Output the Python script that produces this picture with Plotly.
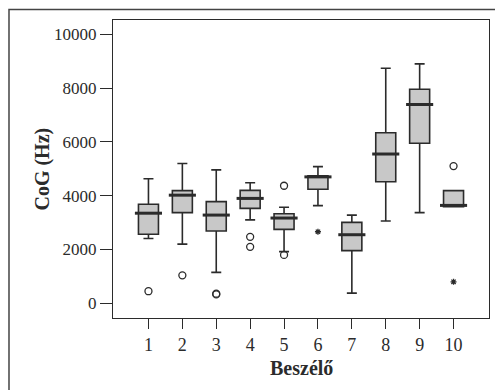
import plotly.graph_objects as go

speakers = [1, 2, 3, 4, 5, 6, 7, 8, 9, 10]
upper_whisker = [4630, 5200, 4960, 4480, 3570, 5080, 3280, 8740, 8900, 4190]
q3 = [3680, 4190, 3780, 4200, 3330, 4740, 3010, 6340, 7960, 4190]
median = [3350, 4020, 3280, 3900, 3170, 4700, 2550, 5550, 7390, 3640]
q1 = [2570, 3370, 2690, 3530, 2750, 4240, 1960, 4520, 5950, 3590]
lower_whisker = [2410, 2200, 1150, 3100, 1920, 3630, 380, 3060, 3370, 3590]

circle_x = [1, 2, 3, 3, 4, 4, 5, 5, 10]
circle_y = [450, 1040, 330, 360, 2470, 2100, 4370, 1800, 5100]
star_x = [6, 10]
star_y = [2660, 800]

x_ticks = [1, 2, 3, 4, 5, 6, 7, 8, 9, 10]
x_labels = ["1", "2", "3", "4", "5", "6", "7", "8", "9", "10"]
y_ticks = [0, 2000, 4000, 6000, 8000, 10000]
y_labels = ["0", "2000", "4000", "6000", "8000", "10000"]

ink = "#2b2b2b"
serif = "Liberation Serif, Times New Roman, serif"

fig = go.Figure()
fig.add_trace(go.Box(
    x=speakers, q1=q1, median=median, q3=q3,
    lowerfence=lower_whisker, upperfence=upper_whisker,
    width=0.59, whiskerwidth=0.5,
    fillcolor="#c8c8c8", line=dict(color=ink, width=1.6),
    boxpoints=False, showlegend=False, hoverinfo="skip",
))

mx, my = [], []
for s, m in zip(speakers, median):
    mx += [s - 0.4, s + 0.4, None]
    my += [m, m, None]
fig.add_trace(go.Scatter(x=mx, y=my, mode="lines",
                         line=dict(color=ink, width=3), showlegend=False, hoverinfo="skip"))

fig.add_trace(go.Scatter(x=circle_x, y=circle_y, mode="markers",
                         marker=dict(symbol="circle-open", size=7, color=ink, line=dict(width=1.3)),
                         showlegend=False))
fig.add_trace(go.Scatter(x=star_x, y=star_y, mode="markers",
                         marker=dict(symbol="asterisk-open", size=5, color=ink, line=dict(width=1.3)),
                         showlegend=False))

fig.update_layout(
    width=495, height=390,
    margin=dict(l=113, r=6, t=20, b=72),
    paper_bgcolor="white", plot_bgcolor="white",
    font=dict(family=serif, color=ink, size=16),
    xaxis=dict(range=[-0.046, 11.046], tickvals=x_ticks, ticktext=x_labels, ticks="outside",
               ticklen=10, tickwidth=1.3, tickcolor=ink, showline=True, mirror=True,
               linecolor=ink, linewidth=1.3, showgrid=False, zeroline=False,
               tickfont=dict(size=18, family=serif, color=ink)),
    yaxis=dict(range=[-546, 10532], tickvals=y_ticks, ticktext=y_labels, ticks="outside",
               ticklen=12, tickwidth=1.3, tickcolor=ink, showline=True, mirror=True,
               linecolor=ink, linewidth=1.3, showgrid=False, zeroline=False,
               tickfont=dict(size=17, family=serif, color=ink)),
    shapes=[dict(type="rect", xref="paper", yref="paper",
                 x0=-0.2766, x1=1.03, y0=-0.275, y1=1.035,
                 line=dict(color="#444", width=1.5))],
    annotations=[
        dict(text="<b>Beszélő</b>", xref="paper", yref="paper", x=0.5, y=-0.168,
             yanchor="middle", xanchor="center", showarrow=False,
             font=dict(size=20, family=serif, color=ink)),
        dict(text="<b>CoG (Hz)</b>", xref="paper", yref="paper", x=-0.19, y=0.5,
             xanchor="center", yanchor="middle", textangle=-90, showarrow=False,
             font=dict(size=20, family=serif, color=ink)),
    ],
)

fig.write_html("out.html")
